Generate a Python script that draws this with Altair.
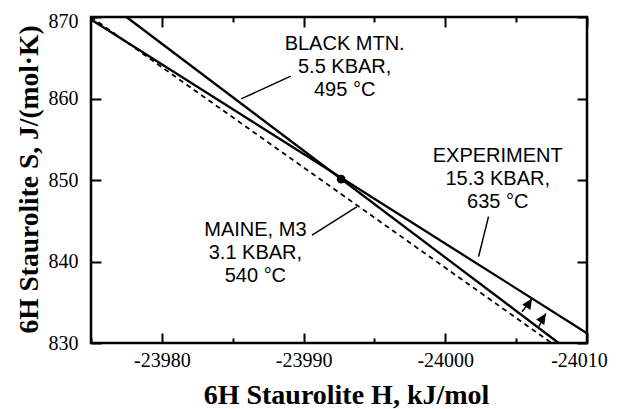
import altair as alt
import pandas as pd

# ---- data ----
# solid lines: BLACK MTN. (steep) and EXPERIMENT (shallow); endpoints (H, S)
solid_name = ["BLACK MTN.", "BLACK MTN.", "EXPERIMENT", "EXPERIMENT"]
solid_h = [-23977.5, -24008.0, -23975.0, -24010.0]
solid_s = [870.0, 830.0, 869.7, 831.2]

# dashed line: MAINE, M3
dash_h = [-23975.0, -24007.5]
dash_s = [870.0, 830.0]

# common point
pt_h = [-23992.65]
pt_s = [850.1]

# labels (first-line baseline anchor)
lab_text = ["BLACK MTN.\n5.5 KBAR,\n495 °C", "EXPERIMENT\n15.3 KBAR,\n635 °C", "MAINE, M3\n3.1 KBAR,\n540 °C"]
lab_h = [-23992.9, -24003.7, -23986.6]
lab_s = [865.95, 852.2, 843.1]

# leader lines
lead_h = [-23985.6, -24002.35, -23990.6]
lead_s = [859.95, 840.6, 843.25]
lead_h2 = [-23989.1, -24003.05, -23993.75]
lead_s2 = [862.75, 845.5, 846.7]

# small arrows (tail -> tip)
arr_h = [-24005.42, -24006.60]
arr_s = [833.84, 832.02]
arr_h2 = [-24006.12, -24007.10]
arr_s2 = [835.46, 833.62]

# axis values
x_grid_vals = [-23975, -23980, -23985, -23990, -23995, -24000, -24005, -24010]
y_vals = [830, 840, 850, 860, 870]

W, H = 496, 326

solid_df = pd.DataFrame({"name": solid_name, "h": solid_h, "s": solid_s})
dash_df = pd.DataFrame({"h": dash_h, "s": dash_s})
pt_df = pd.DataFrame({"h": pt_h, "s": pt_s})
lab_df = pd.DataFrame({"t": lab_text, "h": lab_h, "s": lab_s})
lead_df = pd.DataFrame({"h": lead_h, "s": lead_s, "h2": lead_h2, "s2": lead_s2})
arr_df = pd.DataFrame({"h": arr_h, "s": arr_s, "h2": arr_h2, "s2": arr_s2})

xscale = alt.Scale(domain=[-24010, -23975], reverse=True, nice=False, zero=False)
yscale = alt.Scale(domain=[830, 870], nice=False, zero=False)

x_axis = alt.Axis(
    values=x_grid_vals,
    labelExpr="datum.value % 10 === 0 ? toString(datum.value) : ''",
    ticks=False, tickSize=0, domain=False,
    grid=True, gridColor="black", gridWidth=2, gridOpacity=1,
    gridDash={"condition": {"test": "datum.value % 10 === 0", "value": [10, H - 20, 10, 1000]},
              "value": [5, H - 10, 5, 1000]},
    labelFont="Liberation Serif", labelFontSize=20, labelColor="black",
    labelPadding=7, labelFlush=False, labelOverlap=False,
    labelOffset={"condition": {"test": "datum.value === -24010", "value": -8}, "value": 0},
    title="6H Staurolite H, kJ/mol",
    titleFont="Liberation Serif", titleFontSize=28, titleFontWeight="bold", titleColor="black",
    titleX=255, titleY=60, titleAlign="center", titleBaseline="alphabetic", titleAngle=0,
)
y_axis = alt.Axis(
    values=y_vals,
    ticks=False, tickSize=0, domain=False,
    grid=True, gridColor="black", gridWidth=2, gridOpacity=1,
    gridDash=[10, W - 20, 10, 1000],
    labelFont="Liberation Serif", labelFontSize=20, labelColor="black",
    labelPadding=13, labelFlush=False, labelOverlap=False,
    labelOffset={"condition": {"test": "datum.value === 870", "value": 4}, "value": 0},
    title="6H Staurolite S, J/(mol·K)",
    titleFont="Liberation Serif", titleFontSize=27.5, titleFontWeight="bold", titleColor="black",
    titleX=-54, titleY=162, titleAlign="center", titleBaseline="alphabetic", titleAngle=270,
)

X = alt.X("h:Q", scale=xscale, axis=x_axis)
Y = alt.Y("s:Q", scale=yscale, axis=y_axis)

solid = alt.Chart(solid_df).mark_line(color="black", strokeWidth=2.3).encode(x=X, y=Y, detail="name:N")
dashed = alt.Chart(dash_df).mark_line(color="black", strokeWidth=1.8, strokeDash=[5, 4]).encode(x=X, y=Y)
dot = alt.Chart(pt_df).mark_point(filled=True, color="black", size=75, opacity=1, shape="circle").encode(x=X, y=Y)
leaders = alt.Chart(lead_df).mark_rule(color="black", strokeWidth=1.5).encode(x=X, y=Y, x2="h2:Q", y2="s2:Q")
stems = alt.Chart(arr_df).mark_rule(color="black", strokeWidth=1.5).encode(x=X, y=Y, x2="h2:Q", y2="s2:Q")
heads = alt.Chart(arr_df).mark_point(
    filled=True, color="black", opacity=1, size=170, angle=33,
    shape="M0,0L-0.75,1.6L0.75,1.6Z",
).encode(x=alt.X("h2:Q", scale=xscale, axis=x_axis), y=alt.Y("s2:Q", scale=yscale, axis=y_axis))
labels = alt.Chart(lab_df).mark_text(
    align="center", baseline="alphabetic", lineBreak="\n", lineHeight=23,
    font="Liberation Sans", fontSize=20, color="black",
).encode(x=X, y=Y, text="t:N")

chart = alt.layer(solid, dashed, leaders, stems, heads, dot, labels).properties(
    width=W, height=H,
    autosize=alt.AutoSizeParams(type="none"),
    padding={"left": 83, "top": 9, "right": 22, "bottom": 66},
    background="white",
).configure_view(stroke="black", strokeWidth=2.5)

chart.save("out.html", embed_options={"renderer": "svg", "actions": False})
